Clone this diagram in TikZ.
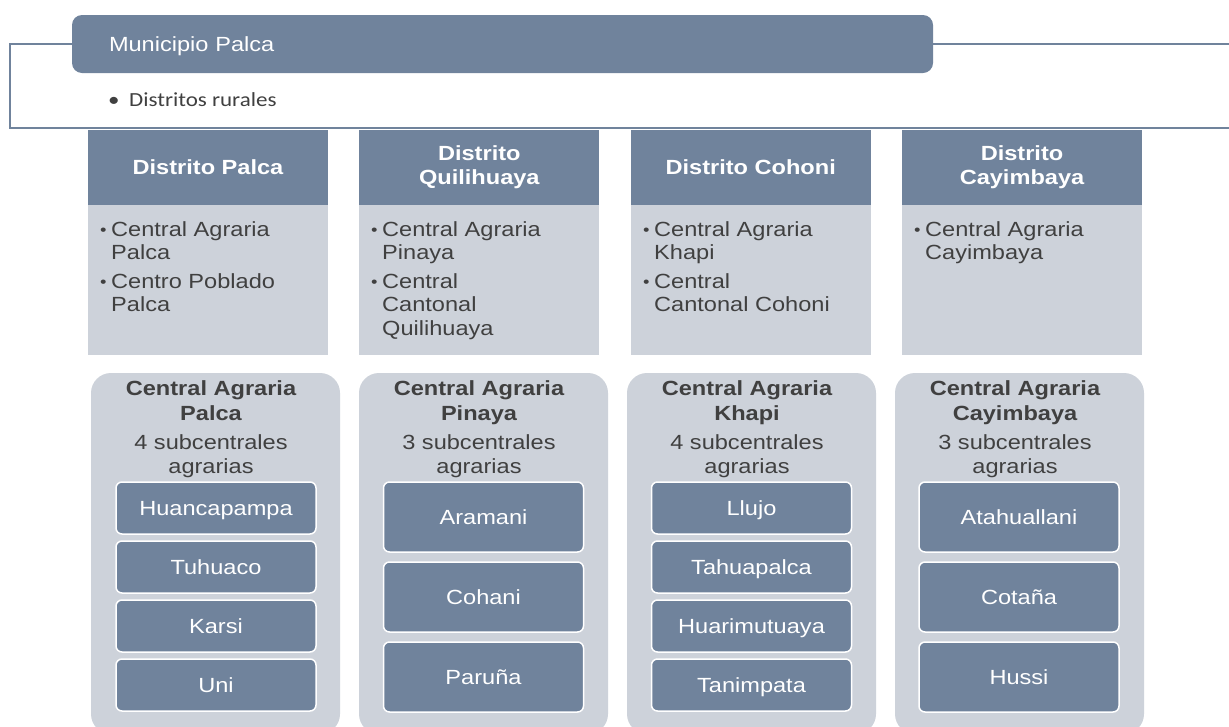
\documentclass[tikz,border=0pt]{standalone}
\usepackage{fontspec}
\setmainfont{Liberation Sans}[FakeStretch=1.15]
\newfontfamily\notefont{Carlito}[FakeStretch=1.15]
\usetikzlibrary{positioning}

\definecolor{slate}{RGB}{112,131,156}
\definecolor{pale}{RGB}{205,210,218}
\definecolor{ink}{RGB}{64,64,64}

% bullet item and its continuation line
\newcommand{\itm}[1]{\rule{0pt}{14.5pt}\makebox[11pt][l]{\raisebox{1pt}{\fontsize{16pt}{16pt}\selectfont •}}#1}
\newcommand{\cnt}[1]{\hspace*{11pt}#1}

\tikzset{
  txt/.style={font=\fontsize{20.5pt}{23.5pt}\selectfont},
  hdrbox/.style={txt, fill=slate, text=white, rounded corners=10pt, text width=787pt,
    inner xsep=37pt, inner ysep=0pt, minimum height=58pt, align=left, outer sep=0pt,
    text height=17.5pt, text depth=3pt},
  frameline/.style={draw=slate, line width=1.8pt},
  disthead/.style={txt, fill=slate, text=white, font=\fontsize{20.5pt}{24pt}\selectfont\bfseries,
    minimum width=240pt, minimum height=75pt, inner sep=0pt, outer sep=0pt, align=center},
  distbody/.style={fill=pale, minimum width=240pt, minimum height=150pt, inner sep=0pt, outer sep=0pt},
  bodytext/.style={txt, anchor=north west, align=left, inner sep=0pt, text=ink},
  card/.style={fill=pale, rounded corners=20pt, minimum width=249pt, minimum height=361pt, inner sep=0pt},
  cardtitle/.style={anchor=north, align=center, inner sep=0pt, text=ink,
    font=\fontsize{20.5pt}{25pt}\selectfont\bfseries},
  cardcount/.style={anchor=north, align=center, inner sep=0pt, text=ink,
    font=\fontsize{20.5pt}{24pt}\selectfont},
  subbox/.style={txt, fill=slate, draw=white, line width=1.5pt, rounded corners=6pt, text=white,
    minimum width=200pt, inner sep=0pt, outer sep=0pt, text height=17.5pt, text depth=3pt},
  subfour/.style={subbox, minimum height=52pt},
  subthree/.style={subbox, minimum height=70pt}
}

\begin{document}
\begin{tikzpicture}[x=1pt, y=-1pt]
  \useasboundingbox (0,0) rectangle (1229,726);
  \clip (0,0) rectangle (1229,726);
  \fill[white] (0,0) rectangle (1229,726);

  % Municipio
  \node[hdrbox, anchor=north west] (mun) at (72,15) {Municipio Palca};
  \draw[frameline] (mun.west) -| (10,128) -- (1240,128);
  \draw[frameline] (mun.east) -- (1240,44);
  \node[anchor=west, inner sep=0pt, text=ink, font=\notefont\fontsize{20pt}{23pt}\selectfont] (rur) at (108,100)
    {\makebox[21pt][l]{•}Distritos rurales};

  % Distritos
  \node[disthead] (dh1) at (208,167.5) {Distrito Palca};
  \node[disthead] (dh2) at (479.3,167.5) {Distrito\\Quilihuaya};
  \node[disthead] (dh3) at (750.7,167.5) {Distrito Cohoni};
  \node[disthead] (dh4) at (1022,167.5) {Distrito\\Cayimbaya};

  \node[distbody, below=0pt of dh1] (db1) {};
  \node[distbody, below=0pt of dh2] (db2) {};
  \node[distbody, below=0pt of dh3] (db3) {};
  \node[distbody, below=0pt of dh4] (db4) {};

  \node[bodytext] (bt1) at (100,221) {\itm{Central Agraria}\\\cnt{Palca}\\[5pt]\itm{Centro Poblado}\\\cnt{Palca}};
  \node[bodytext] (bt2) at (371,221) {\itm{Central Agraria}\\\cnt{Pinaya}\\[5pt]\itm{Central}\\\cnt{Cantonal}\\\cnt{Quilihuaya}};
  \node[bodytext] (bt3) at (643,221) {\itm{Central Agraria}\\\cnt{Khapi}\\[5pt]\itm{Central}\\\cnt{Cantonal Cohoni}};
  \node[bodytext] (bt4) at (914,221) {\itm{Central Agraria}\\\cnt{Cayimbaya}};

  % Centrales agrarias
  \node[card] (cd1) at (215.5,553.5) {};
  \node[card] (cd2) at (483.5,553.5) {};
  \node[card] (cd3) at (751.5,553.5) {};
  \node[card] (cd4) at (1019.5,553.5) {};

  \node[cardtitle] (ct1) at (211,380.5) {\rule{0pt}{14.5pt}Central Agraria\\Palca};
  \node[cardtitle] (ct2) at (479,380.5) {\rule{0pt}{14.5pt}Central Agraria\\Pinaya};
  \node[cardtitle] (ct3) at (747,380.5) {\rule{0pt}{14.5pt}Central Agraria\\Khapi};
  \node[cardtitle] (ct4) at (1015,380.5) {\rule{0pt}{14.5pt}Central Agraria\\Cayimbaya};

  \node[cardcount] (cc1) at (211,434.5) {\rule{0pt}{14.5pt}4 subcentrales\\agrarias};
  \node[cardcount] (cc2) at (479,434.5) {\rule{0pt}{14.5pt}3 subcentrales\\agrarias};
  \node[cardcount] (cc3) at (747,434.5) {\rule{0pt}{14.5pt}4 subcentrales\\agrarias};
  \node[cardcount] (cc4) at (1015,434.5) {\rule{0pt}{14.5pt}3 subcentrales\\agrarias};

  % Subcentrales
  \node[subfour, anchor=north] (s11) at (216,482) {Huancapampa};
  \node[subfour, below=7pt of s11] (s12) {Tuhuaco};
  \node[subfour, below=7pt of s12] (s13) {Karsi};
  \node[subfour, below=7pt of s13] (s14) {Uni};

  \node[subthree, anchor=north] (s21) at (483.5,482) {Aramani};
  \node[subthree, below=10pt of s21] (s22) {Cohani};
  \node[subthree, below=10pt of s22] (s23) {Paruña};

  \node[subfour, anchor=north] (s31) at (751.5,482) {Llujo};
  \node[subfour, below=7pt of s31] (s32) {Tahuapalca};
  \node[subfour, below=7pt of s32] (s33) {Huarimutuaya};
  \node[subfour, below=7pt of s33] (s34) {Tanimpata};

  \node[subthree, anchor=north] (s41) at (1019,482) {Atahuallani};
  \node[subthree, below=10pt of s41] (s42) {Cotaña};
  \node[subthree, below=10pt of s42] (s43) {Hussi};
\end{tikzpicture}
\end{document}
